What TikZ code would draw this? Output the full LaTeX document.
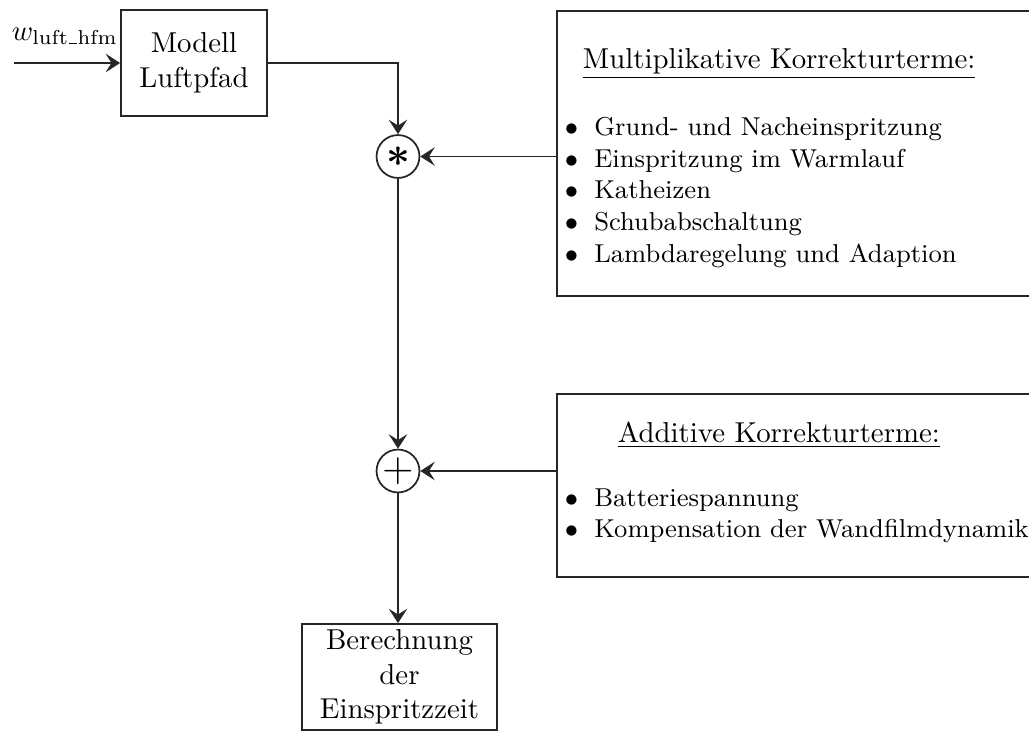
\documentclass[tikz,border=0pt]{standalone}
\usepackage{amsmath}
\usetikzlibrary{arrows.meta}
\newcommand{\boldast}{\mbox{\Large$\boldsymbol{\ast}$}}
\newcommand{\lowbar}{\kern0.5pt\vrule width 2.5pt height 0.4pt depth 0pt\kern0.4pt}
\begin{document}
\begin{tikzpicture}[x=0.3472pt, y=-0.3472pt,
  line width=0.6pt,
  arr/.style={draw=black!85, -{Stealth[length=5pt, width=6.4pt, inset=2pt]}},
  blk/.style={draw=black!85, rectangle, align=center, inner sep=1pt},
  sumnode/.style={draw=black!85, circle, minimum size=14.9pt, inner sep=0pt},
  panel/.style={draw=black!85, rectangle, anchor=north west, inner sep=0pt},
  txt/.style={inner sep=0pt, anchor=base west},
  lst/.style={inner sep=0pt, anchor=base west, align=left,
    font=\fontsize{8.98pt}{10.96pt}\selectfont}]
  \useasboundingbox (0,0) rectangle (1029,732);
  \clip (0,0) rectangle (1029,732);

  % input and air path model
  \coordinate (in) at (14,63);
  \node[txt] (wl) at (11,40) {$w_{\mathrm{luft}\lowbar\mathrm{hfm}}$};
  \node[blk, minimum width=50.7pt, minimum height=36.8pt] (luft) at (194,63) {Modell\\Luftpfad};

  % multiplication and summation points
  \node[sumnode] (star) at (398,156.5) {\boldast};
  \node[sumnode] (plus) at (398,471) {\Large$+$};

  % result block
  \node[blk, minimum width=67.7pt, minimum height=36.8pt] (ti) at (399.5,677) {Berechnung\\der\\Einspritzzeit};

  % multiplicative correction panel (the list node sits on its last baseline)
  \node[panel, minimum width=180pt, minimum height=98.95pt] (mult) at (556,10) {};
  \node[txt] (multh) at (582,68) {\underline{Multiplikative Korrekturterme:}};
  \node[lst] (multl) at (564,262) {%
    $\bullet$\hspace{5.6pt}Grund- und Nacheinspritzung\\
    $\bullet$\hspace{5.6pt}Einspritzung im Warmlauf\\
    $\bullet$\hspace{5.6pt}Katheizen\\
    $\bullet$\hspace{5.6pt}Schubabschaltung\\
    $\bullet$\hspace{5.6pt}Lambdaregelung und Adaption};

  % additive correction panel
  \node[panel, minimum width=180pt, minimum height=63.5pt] (add) at (556,393) {};
  \node[txt] (addh) at (617,442) {\underline{Additive Korrekturterme:}};
  \node[lst] (addl) at (564,537) {%
    $\bullet$\hspace{5.6pt}Batteriespannung\\[-0.3pt]
    $\bullet$\hspace{5.6pt}Kompensation der Wandfilmdynamik};

  % signal flow
  \draw[arr] (in) -- (luft.west);
  \draw[arr] (luft.east) -| (star.north);
  \draw[arr] (mult.west |- star) -- (star.east);
  \draw[arr] (star.south) -- (plus.north);
  \draw[arr] (add.west |- plus) -- (plus.east);
  \draw[arr] (plus.south) -- (plus.south |- ti.north);
\end{tikzpicture}
\end{document}
